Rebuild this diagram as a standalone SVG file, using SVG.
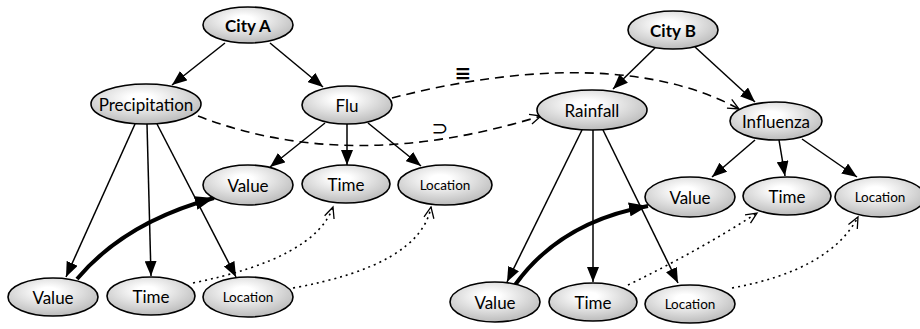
<svg xmlns="http://www.w3.org/2000/svg" width="920" height="329" viewBox="0 0 920 329">
<style>
.n ellipse{fill:url(#g);stroke:#000;stroke-width:1.6}
.n text{font-family:Lato,"Open Sans",sans-serif;font-size:17px;text-anchor:middle;dominant-baseline:central;fill:#000}
.n text.s{font-size:13.5px}
.n text.b{font-weight:bold;font-size:17px}
.e path{fill:none;stroke:#000}
.sol{stroke-width:1.5;marker-end:url(#ah)}
.thk{stroke-width:4;marker-end:url(#ah2)}
.dot{stroke-width:1.6;stroke-dasharray:2 4;marker-end:url(#oa)}
.dsh{stroke-width:1.6;stroke-dasharray:9 6;marker-end:url(#oa)}
.lbl{font-family:"DejaVu Sans",sans-serif;font-size:20px;text-anchor:middle;fill:#000}
</style>
<defs>
<radialGradient id="g" cx="0.45" cy="0.35" r="0.7">
<stop offset="0.15" stop-color="#ffffff"/>
<stop offset="1" stop-color="#b5b5b5"/>
</radialGradient>
<marker id="ah" markerUnits="userSpaceOnUse" markerWidth="16" markerHeight="12" refX="15" refY="6" orient="auto"><path d="M0,0 L15,6 L0,12 Z" fill="#000"/></marker>
<marker id="ah2" markerUnits="userSpaceOnUse" markerWidth="20" markerHeight="14" refX="19" refY="7" orient="auto"><path d="M0,0 L19,7 L0,14 Z" fill="#000"/></marker>
<marker id="oa" markerUnits="userSpaceOnUse" markerWidth="14" markerHeight="12" refX="12" refY="6" orient="auto"><path d="M1,1 L12,6 L1,11" fill="none" stroke="#000" stroke-width="1.3"/></marker>
</defs>
<rect width="920" height="329" fill="#fff"/>
<g class="e" id="connectors">
<path class="sol" d="M225,43 L172,85"/>
<path class="sol" d="M270,43 L323,87"/>
<path class="sol" d="M325,123 L270,167"/>
<path class="sol" d="M347,124 L347,165"/>
<path class="sol" d="M368,123 L421,166"/>
<path class="sol" d="M135,124 L66,277"/>
<path class="sol" d="M147,124 L151,276"/>
<path class="sol" d="M157,124 L236,277"/>
<path class="thk" d="M77,279 Q125,222 214,198"/>
<path class="dot" d="M193,283 Q315,258 333,207"/>
<path class="dot" d="M293,288 Q420,265 431,207"/>
<path class="dsh" d="M392,98 C500,70 640,55 739,109"/>
<path class="dsh" d="M198,116 Q350,175 541,116"/>
<path class="sol" d="M655,48 L613,89"/>
<path class="sol" d="M695,47 L755,102"/>
<path class="sol" d="M755,140 L712,177"/>
<path class="sol" d="M779,140 L785,176"/>
<path class="sol" d="M802,139 L857,177"/>
<path class="sol" d="M582,130 L507,282"/>
<path class="sol" d="M593,130 L593,282"/>
<path class="sol" d="M603,130 L678,283"/>
<path class="thk" d="M515,285 Q560,222 648,206"/>
<path class="dot" d="M628,285 Q700,250 757,213"/>
<path class="dot" d="M732,288 Q830,270 858,217"/>
</g>
<text class="lbl" x="463" y="80" font-weight="bold">≡</text>
<text class="lbl" x="440" y="135">⊃</text>
<g class="n" id="cityA"><ellipse cx="248" cy="25" rx="45" ry="18"/><text class="b" x="248" y="25">City A</text></g>
<g class="n" id="precipitation"><ellipse cx="146" cy="104" rx="55" ry="20"/><text x="146" y="104">Precipitation</text></g>
<g class="n" id="flu"><ellipse cx="347" cy="105" rx="45" ry="19"/><text x="347" y="105">Flu</text></g>
<g class="n" id="a_value_u"><ellipse cx="248" cy="185" rx="45" ry="20"/><text x="248" y="185">Value</text></g>
<g class="n" id="a_time_u"><ellipse cx="346" cy="184" rx="44" ry="19"/><text x="346" y="184">Time</text></g>
<g class="n" id="a_loc_u"><ellipse cx="445" cy="185" rx="47" ry="20"/><text class="s" x="445" y="185">Location</text></g>
<g class="n" id="a_value_l"><ellipse cx="53" cy="297" rx="45" ry="19"/><text x="53" y="297">Value</text></g>
<g class="n" id="a_time_l"><ellipse cx="151" cy="296" rx="44" ry="19"/><text x="151" y="296">Time</text></g>
<g class="n" id="a_loc_l"><ellipse cx="248" cy="297" rx="45" ry="20"/><text class="s" x="248" y="297">Location</text></g>
<g class="n" id="cityB"><ellipse cx="673" cy="30" rx="45" ry="19"/><text class="b" x="673" y="30">City B</text></g>
<g class="n" id="rainfall"><ellipse cx="592" cy="110" rx="55" ry="20"/><text x="592" y="110">Rainfall</text></g>
<g class="n" id="influenza"><ellipse cx="776" cy="121" rx="46" ry="19"/><text x="776" y="121">Influenza</text></g>
<g class="n" id="b_value_u"><ellipse cx="690" cy="197" rx="45" ry="20"/><text x="690" y="197">Value</text></g>
<g class="n" id="b_time_u"><ellipse cx="787" cy="196" rx="44" ry="19"/><text x="787" y="196">Time</text></g>
<g class="n" id="b_loc_u"><ellipse cx="880" cy="197" rx="45" ry="20"/><text class="s" x="880" y="197">Location</text></g>
<g class="n" id="b_value_l"><ellipse cx="495" cy="302" rx="45" ry="20"/><text x="495" y="302">Value</text></g>
<g class="n" id="b_time_l"><ellipse cx="593" cy="302" rx="44" ry="19"/><text x="593" y="302">Time</text></g>
<g class="n" id="b_loc_l"><ellipse cx="690" cy="304" rx="45" ry="19"/><text class="s" x="690" y="304">Location</text></g>
</svg>
